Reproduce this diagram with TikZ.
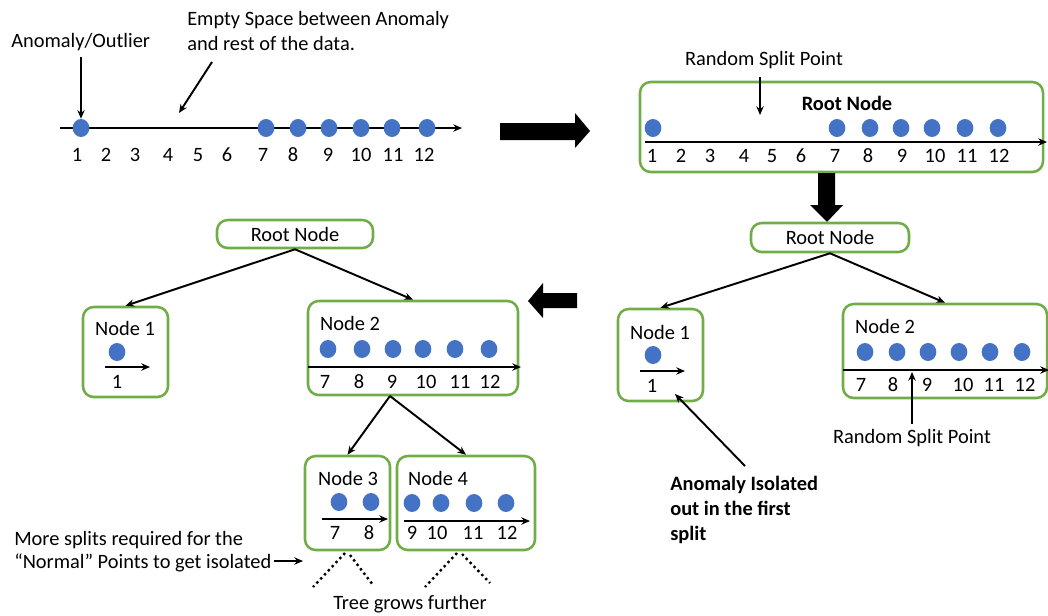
\documentclass[tikz,border=0pt]{standalone}
\usepackage{fontspec}
\setmainfont{Carlito}
\usetikzlibrary{arrows.meta,fit,calc,shapes.geometric}
\definecolor{boxgreen}{HTML}{70AD47}
\definecolor{dotblue}{HTML}{4472C4}
\begin{document}
\begin{tikzpicture}[x=0.75pt,y=-0.75pt,
  txt/.style={inner sep=0pt, font=\fontsize{15.3}{18.75}\selectfont},
  btxt/.style={inner sep=0pt, font=\fontsize{15.3}{18.75}\selectfont\bfseries},
  box/.style={draw=boxgreen, line width=1.9pt, rounded corners=8pt, inner sep=0pt},
  dot/.style={ellipse, fill=dotblue, draw=none, inner sep=0pt, minimum width=12.5pt, minimum height=13.5pt},
  conn/.style={-{Stealth[length=6.5pt,width=5.5pt]}, line width=1.45pt},
  axis/.style={-{Stealth[length=6.5pt,width=5.5pt]}, line width=1.45pt},
  blk/.style={fill=black},
  dotline/.style={line width=1.8pt, dash pattern=on 1.8pt off 2.4pt}
]
\useasboundingbox (0,0) rectangle (1048,615);

% ---------- top-left panel ----------
\node[txt, anchor=west] (anomlbl) at (11,42) {Anomaly/Outlier};
\node[txt, anchor=west, align=left] (emptylbl) at (187,30.5) {Empty Space between Anomaly\\and rest of the data.};
\coordinate (tlA) at (60,128);
\coordinate (tlB) at (462,128);
\draw[axis] (tlA) -- (tlB);
\foreach \x [count=\i] in {81,266,298,329,361,392,427}
  \node[dot] (tld\i) at (\x,128) {};
\foreach \x/\t [count=\i] in {77/1,106/2,135/3,168/4,198/5,227/6,263/7,293/8,328/9,361/10,393/11,424/12}
  \node[txt] (tll\i) at (\x,155) {\t};
\coordinate (a1s) at (81,57);
\draw[conn] (a1s) -- (tld1.north);
\coordinate (es) at (212,62);
\coordinate (ee) at (179,113);
\draw[conn] (es) -- (ee);

% big arrow right
\fill[blk] (500,123) -- (575,123) -- (575,113) -- (590,131) -- (575,148) -- (575,140) -- (500,140) -- cycle;

% ---------- top-right panel ----------
\node[box, fit={(640,82) (1043,172)}] (trbox) {};
\node[txt] (rsplbl1) at (764,60) {Random Split Point};
\coordinate (rs1s) at (760,77);
\coordinate (rs1e) at (760,115);
\draw[conn] (rs1s) -- (rs1e);
\node[btxt] (trroot) at (847,103) {Root Node};
\coordinate (trA) at (645,142);
\coordinate (trB) at (1047,142);
\draw[axis] (trA) -- (trB);
\foreach \x [count=\i] in {653,837,870,901,932,965,998}
  \node[dot] (trd\i) at (\x,128) {};
\foreach \x/\t [count=\i] in {652/1,681/2,710/3,744/4,772/5,801/6,835/7,868/8,902/9,935/10,967/11,999/12}
  \node[txt] (trl\i) at (\x,156) {\t};

% down arrow
\fill[blk] (818,173) -- (835,173) -- (835,205) -- (843,205) -- (827,222) -- (810,205) -- (818,205) -- cycle;

% ---------- right tree ----------
\node[box, fit={(751,223) (909,252)}] (rroot) {};
\node[txt] (rrootlbl) at (830,237) {Root Node};
\node[box, fit={(618,309) (703,401)}] (rn1) {};
\node[txt] (rn1lbl) at (660,332) {Node 1};
\node[dot] (rn1d) at (653,355) {};
\coordinate (rn1A) at (640,371);
\coordinate (rn1B) at (685,371);
\draw[axis] (rn1A) -- (rn1B);
\node[txt] (rn1l) at (652,386) {1};
\node[box, fit={(843,304) (1047,398)}] (rn2) {};
\node[txt] (rn2lbl) at (885,326) {Node 2};
\coordinate (rn2A) at (843,370);
\coordinate (rn2B) at (1049,370);
\draw[axis] (rn2A) -- (rn2B);
\foreach \x [count=\i] in {865,897,928,959,990,1022}
  \node[dot] (rn2d\i) at (\x,352) {};
\foreach \x/\t [count=\i] in {861/7,893/8,927/9,963/10,994/11,1025/12}
  \node[txt] (rn2l\i) at (\x,385) {\t};
\draw[conn] (rroot.south) -- (rn1.north);
\draw[conn] (rroot.south) -- (rn2.north);
\coordinate (rsp2s) at (912,424);
\coordinate (rsp2e) at (912,372);
\draw[conn] (rsp2s) -- (rsp2e);
\node[txt] (rsplbl2) at (912,438) {Random Split Point};
\coordinate (anoms) at (745,466);
\coordinate (anome) at (675,394);
\draw[conn] (anoms) -- (anome);
\node[btxt, anchor=west, align=left] (anomiso) at (670,510) {Anomaly Isolated\\out in the first\\split};

% big arrow left
\fill[blk] (577,293) -- (543,293) -- (543,283) -- (528,301) -- (543,318) -- (543,308) -- (577,308) -- cycle;

% ---------- left tree ----------
\node[box, fit={(217,220) (373,248)}] (lroot) {};
\node[txt] (lrootlbl) at (295,234) {Root Node};
\node[box, fit={(83,307) (168,397)}] (ln1) {};
\node[txt] (ln1lbl) at (125,328) {Node 1};
\node[dot] (ln1d) at (117,352) {};
\coordinate (ln1A) at (105,367);
\coordinate (ln1B) at (150,367);
\draw[axis] (ln1A) -- (ln1B);
\node[txt] (ln1l) at (117,382) {1};
\node[box, fit={(308,301) (518,395)}] (ln2) {};
\node[txt] (ln2lbl) at (350,323) {Node 2};
\coordinate (ln2A) at (308,367);
\coordinate (ln2B) at (521,367);
\draw[axis] (ln2A) -- (ln2B);
\foreach \x [count=\i] in {328,362,393,423,455,489}
  \node[dot] (ln2d\i) at (\x,349) {};
\foreach \x/\t [count=\i] in {325/7,359/8,392/9,426/10,460/11,490/12}
  \node[txt] (ln2l\i) at (\x,382) {\t};
\draw[conn] (lroot.south) -- (ln1.north);
\draw[conn] (lroot.south) -- (ln2.north);

\node[box, fit={(305,456) (390,550)}] (n3) {};
\node[txt] (n3lbl) at (348,478) {Node 3};
\node[dot] (n3d1) at (339,502) {};
\node[dot] (n3d2) at (371,502) {};
\coordinate (n3A) at (322,519);
\coordinate (n3B) at (388,519);
\draw[axis] (n3A) -- (n3B);
\node[txt] (n3l1) at (335,533) {7};
\node[txt] (n3l2) at (369,533) {8};

\node[box, fit={(397,456) (535,550)}] (n4) {};
\node[txt] (n4lbl) at (438,478) {Node 4};
\foreach \x [count=\i] in {412,441,474,506}
  \node[dot] (n4d\i) at (\x,503) {};
\coordinate (n4A) at (404,521);
\coordinate (n4B) at (530,521);
\draw[axis] (n4A) -- (n4B);
\foreach \x/\t [count=\i] in {412/9,437/10,473/11,507/12}
  \node[txt] (n4l\i) at (\x,533) {\t};

\coordinate (lsplit) at (390,396);
\draw[conn] (lsplit) -- (n3.north);
\draw[conn] (lsplit) -- (n4.north);

\node[txt, anchor=west, align=left, font=\fontsize{15.3}{17.25}\selectfont] (morelbl) at (14,552) {More splits required for the\\“Normal” Points to get isolated};
\coordinate (ms) at (274,561);
\coordinate (me) at (303,561);
\draw[conn] (ms) -- (me);

\coordinate (g1s) at (345,553);
\coordinate (g1e) at (313,587);
\coordinate (g2s) at (350,555);
\coordinate (g2e) at (373,585);
\coordinate (g3s) at (457,553);
\coordinate (g3e) at (425,587);
\coordinate (g4s) at (462,554);
\coordinate (g4e) at (490,583);
\draw[dotline] (g1s) -- (g1e);
\draw[dotline] (g2s) -- (g2e);
\draw[dotline] (g3s) -- (g3e);
\draw[dotline] (g4s) -- (g4e);
\node[txt] (treelbl) at (410,604) {Tree grows further};
\end{tikzpicture}
\end{document}
